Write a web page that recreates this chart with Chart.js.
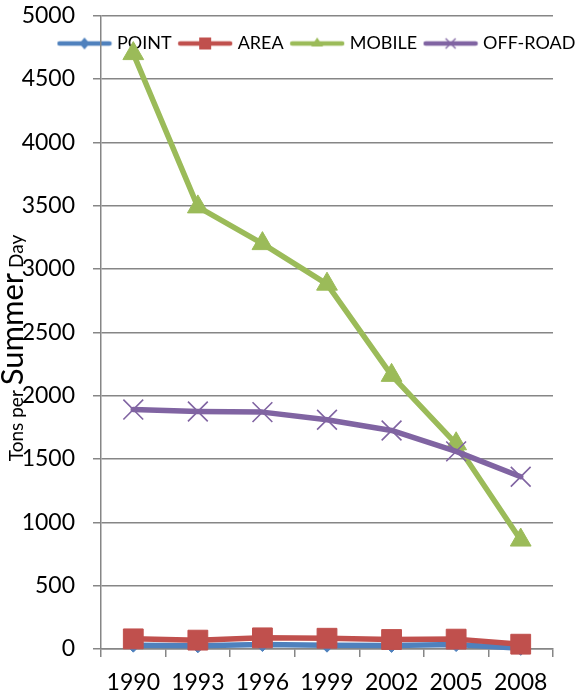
<!DOCTYPE html>
<html><head><meta charset="utf-8">
<script src="https://cdn.jsdelivr.net/npm/chart.js@4.4.0/dist/chart.umd.min.js"></script>
<style>html,body{margin:0;padding:0;background:#fff;}#wrap{width:587px;height:697px;position:relative;}</style>
</head><body><div id="wrap"><canvas id="c"></canvas></div>
<script>
const years = ['1990','1993','1996','1999','2002','2005','2008'];
const pointValues = [30, 25, 35, 30, 28, 35, 5];
const areaValues = [80, 70, 88, 85, 75, 78, 38];
const mobileValues = [4700, 3490, 3200, 2880, 2160, 1620, 860];
const offroadValues = [1890, 1875, 1870, 1810, 1725, 1560, 1360];
const seriesNames = ['POINT', 'AREA', 'MOBILE', 'OFF-ROAD'];
const yMin = 0, yMax = 5000, yStep = 500;
const yTitleParts = ['Tons per ', 'Summer', ' Day'];

const FONT = 'Lato';
const colors = ['#4F81BD', '#C0504D', '#9BBB59', '#8064A2'];
const styles = ['rectRot', 'rect', 'triangle', 'crossRot'];

function legendSample(color, style) {
  const c = document.createElement('canvas');
  c.width = 56; c.height = 20;
  const g = c.getContext('2d');
  g.strokeStyle = color; g.fillStyle = color; g.lineWidth = 4.5; g.lineCap = 'round';
  g.beginPath(); g.moveTo(3, 10); g.lineTo(53, 10); g.stroke();
  const x = 28, y = 10;
  g.beginPath();
  if (style === 'rectRot') { g.moveTo(x, y - 6); g.lineTo(x + 5, y); g.lineTo(x, y + 6); g.lineTo(x - 5, y); g.closePath(); g.fill(); }
  else if (style === 'rect') { g.fillRect(x - 6, y - 6, 12, 12); }
  else if (style === 'triangle') { g.moveTo(x, y - 6); g.lineTo(x + 6, y + 3); g.lineTo(x - 6, y + 3); g.closePath(); g.fill(); }
  else { g.lineWidth = 1.3; g.lineCap = 'butt'; g.moveTo(x - 5, y - 5); g.lineTo(x + 5, y + 5); g.moveTo(x + 5, y - 5); g.lineTo(x - 5, y + 5); g.stroke(); }
  return c;
}

const legendPlace = {
  id: 'legendPlace',
  beforeInit(chart) {
    const lg = chart.legend;
    if (lg && !lg._patched) {
      const fit = lg.fit;
      lg.fit = function () { fit.call(this); this.height = 0; };
      lg._patched = true;
    }
  },
  afterLayout(chart) {
    const lg = chart.legend;
    lg.left = 51; lg.top = 24.5; lg.right = 900; lg.width = 849;
    lg.height = 40; lg.bottom = lg.top + 40;
  }
};

const yTitlePlugin = {
  id: 'yTitle',
  afterDraw(chart) {
    const ctx = chart.ctx;
    const sizes = [19, 31, 19];
    ctx.save();
    ctx.translate(23, 348);
    ctx.rotate(-Math.PI / 2);
    ctx.fillStyle = '#000';
    ctx.textBaseline = 'alphabetic';
    ctx.textAlign = 'left';
    const widths = yTitleParts.map((t, i) => { ctx.font = sizes[i] + 'px ' + FONT; return ctx.measureText(t).width; });
    const total = widths.reduce((a, b) => a + b, 0);
    let x = -total / 2;
    yTitleParts.forEach((t, i) => { ctx.font = sizes[i] + 'px ' + FONT; ctx.fillText(t, x, 0); x += widths[i]; });
    ctx.restore();
  }
};

function build() {
  const seriesData = [pointValues, areaValues, mobileValues, offroadValues];
  const radii = [7, 14, 12, 14];
  const samples = colors.map((c, i) => legendSample(c, styles[i]));
  const datasets = seriesNames.map((name, i) => ({
    label: name,
    data: seriesData[i],
    borderColor: colors[i],
    backgroundColor: colors[i],
    pointBackgroundColor: colors[i],
    pointBorderColor: colors[i],
    borderWidth: 5.5,
    pointStyle: styles[i],
    pointRadius: radii[i],
    pointBorderWidth: styles[i] === 'crossRot' ? 1.6 : 1,
    borderJoinStyle: 'round',
    borderCapStyle: 'round',
    tension: 0,
    clip: false,
    order: 4 - i
  }));

  new Chart(document.getElementById('c'), {
    type: 'line',
    data: { labels: years, datasets },
    plugins: [legendPlace, yTitlePlugin],
    options: {
      responsive: true,
      maintainAspectRatio: false,
      animation: false,
      events: [],
      layout: { padding: { top: 0, right: 34, bottom: 0, left: 0 } },
      plugins: {
        title: { display: false },
        tooltip: { enabled: false },
        legend: {
          display: true,
          position: 'top',
          align: 'start',
          labels: {
            usePointStyle: true,
            pointStyleWidth: 47,
            boxHeight: 18,
            padding: 10,
            color: '#000',
            font: { family: FONT, size: 18 },
            sort: (a, b) => a.datasetIndex - b.datasetIndex,
            generateLabels: (chart) => chart.data.datasets.map((ds, i) => ({
              text: ds.label, pointStyle: samples[i], datasetIndex: i, hidden: false,
              lineWidth: 0, strokeStyle: ds.borderColor, fillStyle: ds.borderColor, fontColor: '#000'
            }))
          }
        }
      },
      scales: {
        x: {
          offset: true,
          grid: { display: true, drawOnChartArea: false, drawTicks: true, tickLength: 8, offset: true, color: '#868686', lineWidth: 1.5 },
          border: { display: true, color: '#868686', width: 1.5 },
          ticks: { font: { family: FONT, size: 23 }, color: '#000', padding: 12, maxRotation: 0, autoSkip: false },
          afterFit(s) { s.height = 48; s.paddingLeft = 0; s.paddingRight = 0; }
        },
        y: {
          min: yMin, max: yMax,
          ticks: { stepSize: yStep, font: { family: FONT, size: 23 }, color: '#000', padding: 18, callback: (v) => String(v) },
          grid: { color: '#868686', lineWidth: 1.5, tickLength: 8, drawTicks: true },
          border: { display: true, color: '#868686', width: 1.5 },
          afterFit(s) { s.width = 101; s.paddingTop = 14; s.paddingBottom = 0; }
        }
      }
    }
  });
}

if (document.fonts && document.fonts.load) {
  Promise.all([document.fonts.load('18px Lato'), document.fonts.load('23px Lato'), document.fonts.load('31px Lato')]).then(build, build);
} else { build(); }
</script>
</body></html>
